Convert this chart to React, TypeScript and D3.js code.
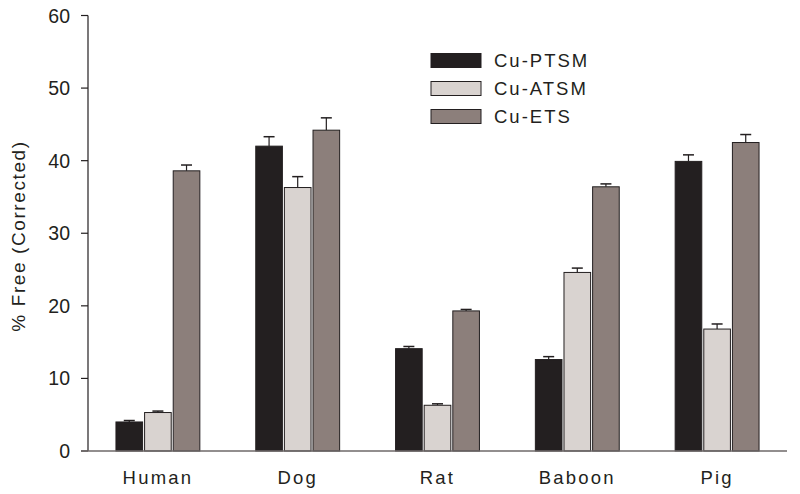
import * as d3 from "d3";

const species = ["Human", "Dog", "Rat", "Baboon", "Pig"];
const seriesNames = ["Cu-PTSM", "Cu-ATSM", "Cu-ETS"];
const ptsm = [4.0, 42.0, 14.1, 12.6, 39.9];
const ptsmErr = [0.2, 1.3, 0.3, 0.4, 0.9];
const atsm = [5.3, 36.3, 6.3, 24.6, 16.8];
const atsmErr = [0.2, 1.5, 0.2, 0.6, 0.7];
const ets = [38.6, 44.2, 19.3, 36.4, 42.5];
const etsErr = [0.8, 1.7, 0.2, 0.4, 1.1];
const yTicks = [0, 10, 20, 30, 40, 50, 60];

const colors = ["#231f20", "#d9d3d0", "#8c7f7b"];
const stroke = "#231f20";

const W = 800;
const H = 494;
const left = 88;
const right = 787;
const top = 15.5;
const bottom = 451;

export default function App() {
  const values = [ptsm, atsm, ets];
  const errs = [ptsmErr, atsmErr, etsErr];

  const x0 = d3.scaleBand()
    .domain(species)
    .range([left, right])
    .paddingInner(0.4)
    .paddingOuter(0.2);
  const x1 = d3.scaleBand()
    .domain(seriesNames)
    .range([0, x0.bandwidth()])
    .paddingInner(0.07);
  const y = d3.scaleLinear().domain([0, 60]).range([bottom, top]);

  const font = "Arial, 'Liberation Sans', Helvetica, sans-serif";

  return (
    <svg width={W} height={H} style={{ position: "absolute", left: 0, top: 0 }} fontFamily={font}>
      {/* bars */}
      {species.map((sp, i) => (
        <g key={sp}>
          {seriesNames.map((s, j) => {
            const bx = (x0(sp) ?? 0) + (x1(s) ?? 0);
            const bw = x1.bandwidth();
            const v = values[j][i];
            const e = errs[j][i];
            const cx = bx + bw / 2;
            return (
              <g key={s}>
                <line x1={cx} x2={cx} y1={y(v)} y2={y(v + e)} stroke={stroke} strokeWidth={1.2} />
                <line x1={cx - 5.5} x2={cx + 5.5} y1={y(v + e)} y2={y(v + e)} stroke={stroke} strokeWidth={1.5} />
                <rect x={bx} y={y(v)} width={bw} height={bottom - y(v)} fill={colors[j]} stroke={stroke} strokeWidth={1} />
              </g>
            );
          })}
        </g>
      ))}

      {/* y axis */}
      <line x1={left} x2={left} y1={top} y2={bottom} stroke="#231f20" strokeWidth={1.2} />
      {yTicks.map((t) => (
        <g key={t}>
          <line x1={left - 7} x2={left} y1={y(t)} y2={y(t)} stroke="#231f20" strokeWidth={1.2} />
          <text x={70} y={y(t)} dy="0.36em" textAnchor="end" fontSize={19.5} fill="#231f20">{t}</text>
        </g>
      ))}
      {/* x axis */}
      <line x1={left - 7} x2={right} y1={bottom} y2={bottom} stroke="#6e6869" strokeWidth={1.5} />
      {species.map((sp) => (
        <text key={sp} x={(x0(sp) ?? 0) + x0.bandwidth() / 2} y={483.5} textAnchor="middle"
          fontSize={18.5} letterSpacing={2.2} fill="#231f20">{sp}</text>
      ))}

      <text transform={`translate(25,${236}) rotate(-90)`} textAnchor="middle"
        fontSize={19} letterSpacing={1.6} fill="#231f20">% Free (Corrected)</text>

      {/* legend */}
      {seriesNames.map((s, j) => (
        <g key={s} transform={`translate(431,${53.5 + j * 28})`}>
          <rect x={0} y={0} width={50} height={14} fill={colors[j]} stroke={stroke} strokeWidth={1} />
          <text x={63} y={7} dy="0.36em" fontSize={18.5} letterSpacing={2} fill="#231f20">{s}</text>
        </g>
      ))}
    </svg>
  );
}
